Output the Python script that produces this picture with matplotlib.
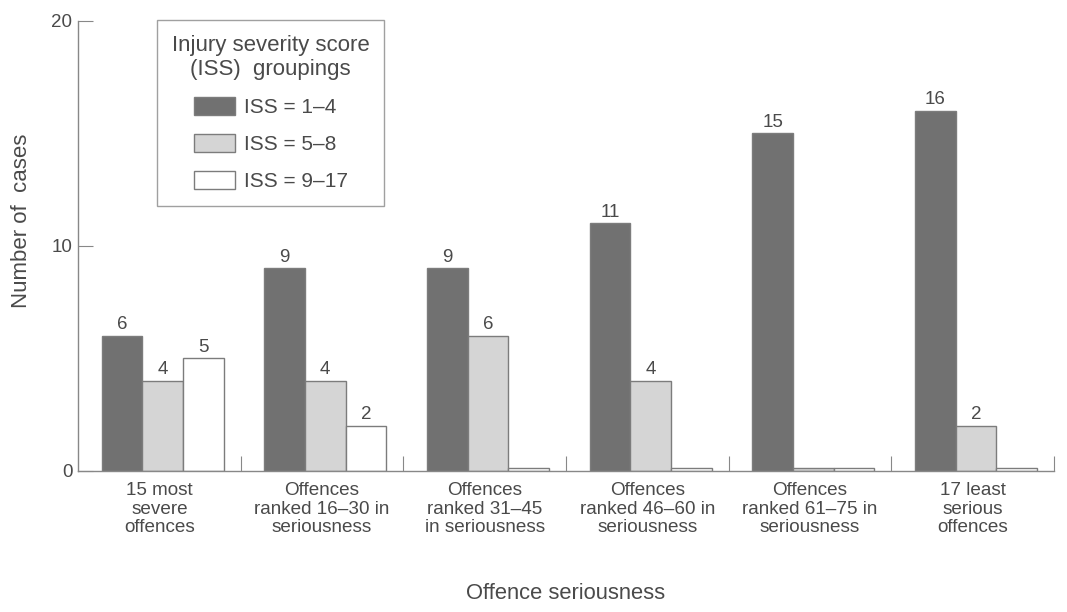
import matplotlib.pyplot as plt
import numpy as np

plt.rcParams['font.family'] = ['Liberation Sans', 'DejaVu Sans']

groups = ["15 most\nsevere\noffences",
          "Offences\nranked 16\u201330 in\nseriousness",
          "Offences\nranked 31\u201345\nin seriousness",
          "Offences\nranked 46\u201360 in\nseriousness",
          "Offences\nranked 61\u201375 in\nseriousness",
          "17 least\nserious\noffences"]
series_names = ["ISS = 1\u20134", "ISS = 5\u20138", "ISS = 9\u201317"]
iss_1_4 = [6, 9, 9, 11, 15, 16]
iss_5_8 = [4, 4, 6, 4, 0, 2]
iss_9_17 = [5, 2, 0, 0, 0, 0]

values = [iss_1_4, iss_5_8, iss_9_17]
colors = ["#717171", "#d5d5d5", "#ffffff"]
edge = "#7c7c7c"
text_col = "#4a4a4a"

fig = plt.figure(figsize=(10.67, 6.12), dpi=100)
ax = fig.add_axes([0.0731, 0.2304, 0.9147, 0.7353])

x = np.arange(len(groups))
w = 0.25
for i, (name, vals, c) in enumerate(zip(series_names, values, colors)):
    vals = np.array(vals, dtype=float)
    shown = np.where(vals == 0, 0.15, vals)  # zero bars drawn as thin slivers
    bars = ax.bar(x + (i - 1) * w + 0.02, shown, w, color=c, edgecolor=edge,
                  linewidth=1.0, label=name)
    labels = [str(int(v)) if v > 0 else "" for v in vals]
    ax.bar_label(bars, labels=labels, padding=2, fontsize=13.5, color=text_col)

ax.set_xlim(-0.5, 5.5)
ax.set_ylim(0, 20)
ax.spines['top'].set_visible(False)
ax.spines['right'].set_visible(False)
for s in ('left', 'bottom'):
    ax.spines[s].set_color("#888888")
    ax.spines[s].set_linewidth(1.0)

ax.set_yticks([0, 10, 20])
ax.tick_params(axis='y', direction='in', length=11, color="#888888",
               labelsize=13.5, labelcolor=text_col, pad=4)

ax.set_xticks(np.arange(0.5, 6.0, 1.0))
ax.set_xticklabels([])
ax.tick_params(axis='x', which='major', direction='in', length=11, color="#888888")
ax.set_xticks(x, minor=True)
ax.set_xticklabels(groups, minor=True, fontsize=13.6, color=text_col, linespacing=1.12)
ax.tick_params(axis='x', which='minor', length=0, pad=8)

ax.set_xlabel("Offence seriousness", fontsize=15.8, color=text_col, labelpad=34)
ax.set_ylabel("Number of  cases", fontsize=16, color=text_col)
ax.yaxis.set_label_coords(-0.047, 0.555)

leg = ax.legend(title="Injury severity score\n(ISS)  groupings", loc='upper left',
                bbox_to_anchor=(0.081, 1.002), borderaxespad=0, fancybox=False,
                fontsize=15, title_fontsize=16, labelspacing=0.8,
                handlelength=2.0, handleheight=1.0, borderpad=0.7,
                handletextpad=0.4)
leg.get_frame().set_edgecolor("#888888")
leg.get_frame().set_linewidth(1.0)
leg.get_title().set_color(text_col)
leg.get_title().set_multialignment('center')
for t in leg.get_texts():
    t.set_color(text_col)

fig.savefig("out.png", dpi=100)
